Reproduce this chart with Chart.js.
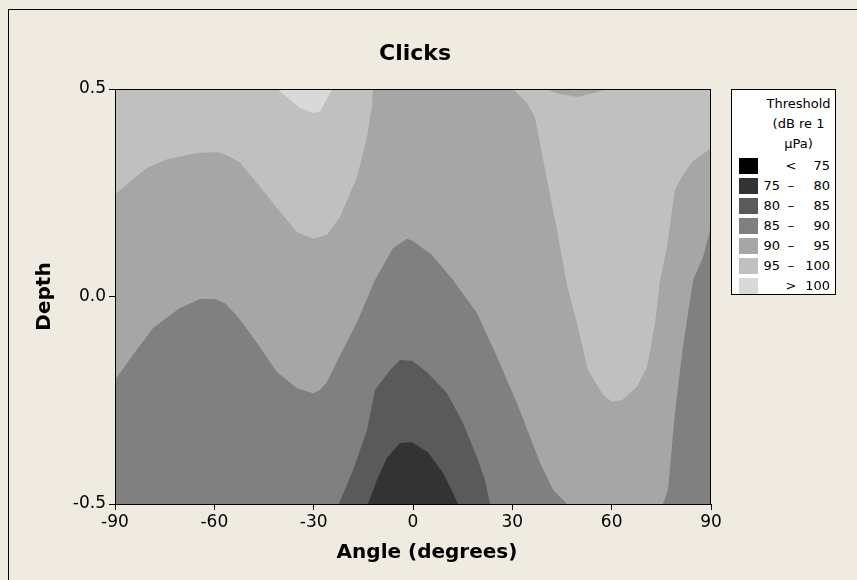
<!DOCTYPE html>
<html>
<head>
<meta charset="utf-8">
<script src="https://cdn.jsdelivr.net/npm/chart.js@4.4.1/dist/chart.umd.min.js"></script>
<style>
    html, body { margin: 0; padding: 0; background: #efebe1; }
    body { width: 857px; height: 580px; overflow: hidden; position: relative; font-family: "DejaVu Sans", sans-serif; }
    #frame { position: absolute; left: 8px; top: 9px; width: 900px; height: 620px; border: 1px solid #000; box-sizing: border-box; }
    #chart { position: absolute; left: 0; top: 0; }
    .label { position: absolute; width: 300px; text-align: center; font-weight: bold; color: #000; white-space: nowrap; }
    #title { left: 265px; top: 40px; font-size: 22px; line-height: 26px; }
    #xtitle { left: 277px; top: 539px; font-size: 20px; line-height: 24px; }
    #legend { position: absolute; left: 731px; top: 89px; width: 105px; height: 206px; background: #fff; border: 1px solid #000; box-sizing: border-box; font-size: 13px; color: #000; }
    #legend .head { position: absolute; left: 30px; right: 0; top: 4px; text-align: center; line-height: 20px; }
    #legend .row { position: absolute; left: 0; width: 100%; height: 20px; line-height: 20px; }
    #legend .sw { position: absolute; left: 7px; top: 2px; width: 19px; height: 16px; }
    #legend .lo { position: absolute; left: 28px; width: 20px; text-align: right; }
    #legend .mid { position: absolute; left: 52px; width: 14px; text-align: center; }
    #legend .hi { position: absolute; left: 68px; width: 30px; text-align: right; }
</style>
</head>
<body>
<div id="frame"></div>
<canvas id="chart" width="857" height="580"></canvas>
<div id="title" class="label">Clicks</div>
<div id="xtitle" class="label">Angle (degrees)</div>
<div id="legend"></div>
<script>
// axis ticks
const xTicks = [-90, -60, -30, 0, 30, 60, 90];
const xTickLabels = ['-90', '-60', '-30', '0', '30', '60', '90'];
const yTicks = [-0.5, 0, 0.5];
const yTickLabels = ['-0.5', '0.0', '0.5'];

// threshold bands (dB re 1 uPa), darkest to lightest
const bandLow = ['', '75', '80', '85', '90', '95', ''];
const bandSign = ['<', '\u2013', '\u2013', '\u2013', '\u2013', '\u2013', '>'];
const bandHigh = ['75', '80', '85', '90', '95', '100', '100'];
const bandColors = ['#000000', '#333333', '#5a5a5a', '#808080', '#a6a6a6', '#c0c0c0', '#d9d9d9'];

// contour lines, [angle, depth]
const plotBox = [[-90, 0.5], [90, 0.5], [90, -0.5], [-90, -0.5]];
const edge95Left = [[-90, 0.245], [-84.9, 0.281], [-80.3, 0.310], [-74.3, 0.331], [-65.2, 0.346], [-59.2, 0.348],
    [-55.9, 0.339], [-52.2, 0.322], [-47.1, 0.273], [-41.1, 0.213], [-35.0, 0.155], [-30.2, 0.139], [-26.0, 0.148],
    [-22.0, 0.192], [-16.9, 0.288], [-13.9, 0.384], [-12.4, 0.457], [-12.1, 0.5], [-90, 0.5]];
const edge95Right = [[30.2, 0.5], [34.4, 0.466], [36.8, 0.433], [40.5, 0.281], [43.5, 0.160], [46.5, 0.028],
    [49.5, -0.064], [52.8, -0.177], [57.4, -0.237], [60.1, -0.254], [63.1, -0.250], [67.6, -0.218], [70.7, -0.170],
    [73.1, -0.064], [74.6, 0.040], [76.7, 0.119], [79.1, 0.257], [81.2, 0.288], [84.3, 0.324], [90, 0.358], [90, 0.5]];
const lobe100 = [[-41.1, 0.5], [-34.1, 0.454], [-30.2, 0.442], [-28.1, 0.445], [-25.1, 0.490], [-24.2, 0.5]];
const lobe90Top = [[39.9, 0.5], [43.5, 0.490], [49.5, 0.481], [54.4, 0.490], [58.6, 0.5]];
const edge85Left = [[-90, -0.201], [-84.6, -0.141], [-78.5, -0.076], [-70.4, -0.028], [-64.3, -0.006], [-59.8, -0.006],
    [-56.8, -0.016], [-52.9, -0.049], [-47.1, -0.112], [-41.1, -0.182], [-35.0, -0.221], [-30.2, -0.233], [-28.1, -0.225],
    [-26.0, -0.206], [-22.0, -0.141], [-16.9, -0.062], [-11.5, 0.040], [-6.0, 0.117], [-1.8, 0.139], [0.0, 0.134],
    [5.7, 0.100], [12.1, 0.040], [19.3, -0.040], [25.4, -0.146], [31.4, -0.257], [38.4, -0.401], [42.3, -0.466],
    [46.5, -0.5], [-90, -0.5]];
const edge85Right = [[75.5, -0.5], [77.0, -0.466], [79.1, -0.281], [81.5, -0.122], [84.6, 0.040], [87.6, 0.095],
    [90, 0.167], [90, -0.5]];
const edge80 = [[-22.4, -0.5], [-18.1, -0.418], [-13.9, -0.322], [-11.5, -0.225], [-6.9, -0.177], [-3.9, -0.153],
    [-0.3, -0.155], [4.2, -0.182], [10.3, -0.233], [15.1, -0.305], [19.3, -0.387], [21.7, -0.442], [23.3, -0.5]];
const edge75 = [[-13.6, -0.5], [-10.9, -0.442], [-7.9, -0.389], [-3.9, -0.353], [-0.3, -0.351], [4.5, -0.375],
    [9.1, -0.425], [12.1, -0.474], [13.6, -0.5]];

// layers, painted bottom to top: [shape, band index]
const layers = [
    [plotBox, 4],
    [edge95Left, 5],
    [edge95Right, 5],
    [lobe100, 6],
    [lobe90Top, 4],
    [edge85Left, 3],
    [edge85Right, 3],
    [edge80, 2],
    [edge75, 1]
];

Chart.defaults.font.family = '"DejaVu Sans", sans-serif';
Chart.defaults.color = '#000';

// black frame round the plot area
const frameBox = {
    id: 'frameBox',
    afterDraw(chart) {
        const { ctx, chartArea: a } = chart;
        ctx.save();
        ctx.strokeStyle = '#000';
        ctx.lineWidth = 1;
        ctx.strokeRect(Math.round(a.left) + 0.5, Math.round(a.top) + 0.5, Math.round(a.right - a.left) - 1, Math.round(a.bottom - a.top));
        ctx.restore();
    }
};

new Chart(document.getElementById('chart'), {
    type: 'line',
    data: {
        datasets: layers.map(([shape, band], i) => ({
            data: shape.map(([x, y]) => ({ x, y })),
            fill: 'shape',
            backgroundColor: bandColors[band],
            borderColor: 'rgba(0,0,0,0)',
            borderWidth: 0,
            pointRadius: 0,
            tension: 0,
            order: layers.length - i
        }))
    },
    options: {
        responsive: false,
        animation: false,
        events: [],
        layout: { padding: { top: 89, left: 0, right: 146, bottom: 0 } },
        plugins: {
            legend: { display: false },
            tooltip: { enabled: false }
        },
        scales: {
            x: {
                type: 'linear',
                min: -90,
                max: 90,
                afterBuildTicks: axis => { axis.ticks = xTicks.map(v => ({ value: v })); },
                afterFit: axis => { axis.height = 76; },
                ticks: { callback: (v, i) => xTickLabels[i], font: { size: 17 }, padding: 2, maxRotation: 0, autoSkip: false },
                grid: { drawOnChartArea: false, tickLength: 6, color: '#000' },
                border: { color: '#000' }
            },
            y: {
                type: 'linear',
                min: -0.5,
                max: 0.5,
                afterBuildTicks: axis => { axis.ticks = yTicks.map(v => ({ value: v })); },
                afterFit: axis => { axis.width = 115; },
                ticks: { callback: (v, i) => yTickLabels[i], font: { size: 17 }, padding: 3, autoSkip: false },
                grid: { drawOnChartArea: false, tickLength: 6, color: '#000' },
                border: { color: '#000' },
                title: { display: true, text: 'Depth', font: { size: 20, weight: 'bold' }, padding: { top: 33, bottom: 0 } }
            }
        }
    },
    plugins: [frameBox]
});

// legend box
const legend = document.getElementById('legend');
legend.innerHTML = '<div class="head">Threshold<br>(dB re 1<br>\u00b5Pa)</div>' +
    bandColors.map((c, i) => `
        <div class="row" style="top:${66 + i * 20}px">
            <span class="sw" style="background:${c}"></span>
            <span class="lo">${bandLow[i]}</span>
            <span class="mid">${bandSign[i]}</span>
            <span class="hi">${bandHigh[i]}</span>
        </div>`).join('');
</script>
</body>
</html>
